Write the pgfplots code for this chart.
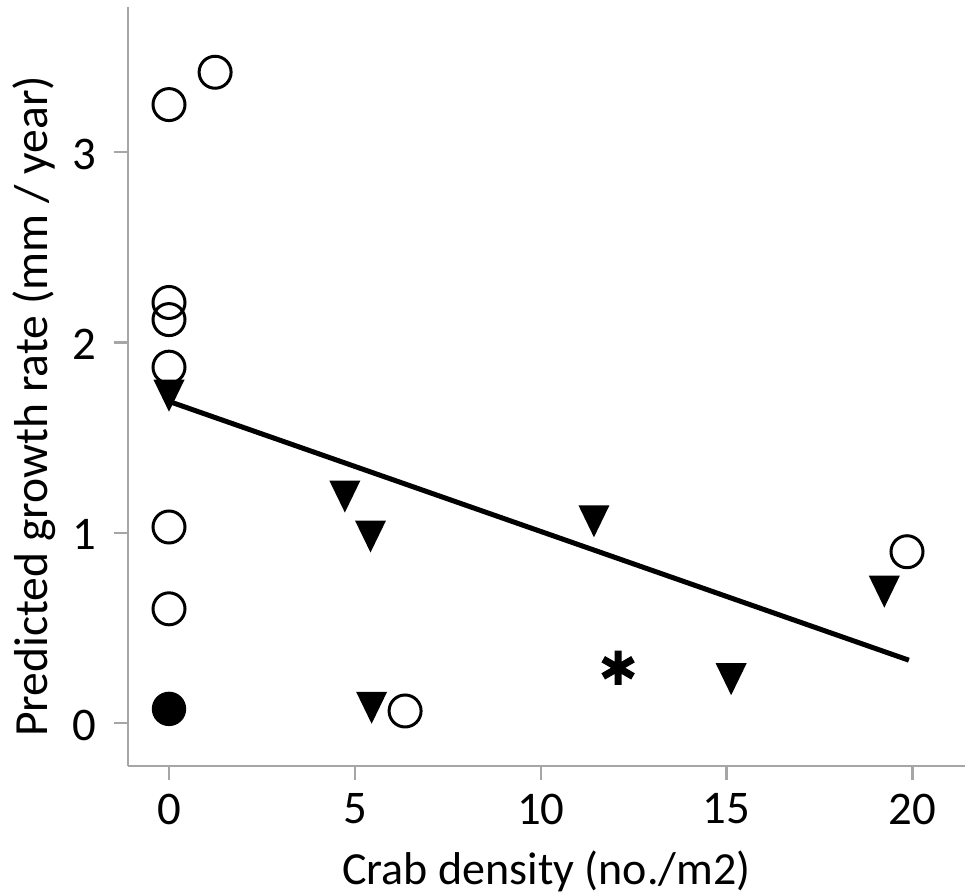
\documentclass[border=0pt]{standalone}
\usepackage{fontspec}
\setmainfont{Carlito}
\usepackage{pgfplots}
\pgfplotsset{compat=1.18}
\definecolor{axgray}{HTML}{A6A6A6}
\pgfdeclareplotmark{dtri}{%
  \pgfpathmoveto{\pgfpoint{-0.97\pgfplotmarksize}{\pgfplotmarksize}}%
  \pgfpathlineto{\pgfpoint{0.97\pgfplotmarksize}{\pgfplotmarksize}}%
  \pgfpathlineto{\pgfpoint{0pt}{-\pgfplotmarksize}}%
  \pgfpathclose
  \pgfusepathqfill}
\begin{document}
\begin{tikzpicture}
\begin{axis}[
  scale only axis,
  width=209.25pt, height=189.75pt,
  xmin=-1.103, xmax=21.41,
  ymin=-0.226, ymax=3.763,
  axis x line*=bottom, axis y line*=left,
  axis line style={axgray, line width=0.6pt},
  tick style={axgray, line width=0.6pt},
  tick align=outside,
  major tick length=3.5pt,
  xtick={0,5,10,15,20},
  ytick={0,1,2,3},
  /pgf/number format/assume math mode=true,
  ticklabel style={font=\fontsize{11.7}{13}\selectfont, inner sep=0pt},
  xticklabel style={yshift=-3.25pt},
  yticklabel style={xshift=-4.25pt, yshift=-0.5pt},
  xlabel={Crab density (no./m2)},
  ylabel={Predicted growth rate (mm / year)},
  label style={inner sep=0pt},
  xlabel style={font=\fontsize{11.5}{13}\selectfont, at={(axis description cs:0.5,-0.1568)}, anchor=base},
  ylabel style={font=\fontsize{11.9}{13}\selectfont, at={(axis description cs:-0.0956,0.4736)}, anchor=base, rotate=0},
  clip=false,
]
% regression line
\addplot[black, line width=1.25pt, no marks] coordinates {(0,1.69) (19.9,0.33)};
% open circles
\addplot[only marks, mark=o, mark size=4pt, line width=0.75pt, black] coordinates {
  (0,3.25) (1.24,3.42) (0,2.21) (0,2.12) (0,1.87) (0,1.03) (0,0.60) (6.35,0.063) (19.85,0.90)
};
% filled circle
\addplot[only marks, mark=*, mark size=4.1pt, black, mark options={draw=none, fill=black}] coordinates {(0,0.074)};
% triangles
\addplot[only marks, mark=dtri, mark size=4pt, black] coordinates {
  (0,1.72) (4.73,1.19) (5.42,0.98) (5.45,0.08) (11.43,1.06) (15.12,0.23) (19.24,0.69)
};
% asterisk
\addplot[only marks, mark=asterisk, mark size=4.3pt, line width=1.8pt, black] coordinates {(12.08,0.29)};
\end{axis}
\pgfresetboundingbox
\path[use as bounding box] ([shift={(-32pt,-32pt)}]current axis.south west) rectangle ([shift={(0pt,1.75pt)}]current axis.north east);
\end{tikzpicture}
\end{document}
